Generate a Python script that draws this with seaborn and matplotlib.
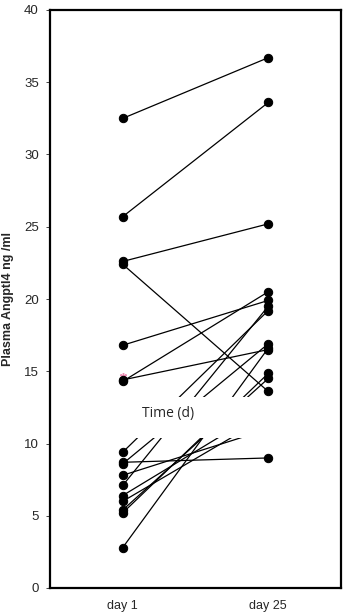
import numpy as np
import pandas as pd
import matplotlib
matplotlib.use("Agg")
import matplotlib.pyplot as plt
import seaborn as sns

# paired plasma Angptl4 values (ng/ml), one entry per subject
day1 = [32.5, 25.7, 22.6, 22.4, 16.8, 14.3, 14.4, 9.4, 8.7, 8.6,
        7.8, 7.1, 6.4, 6.0, 5.4, 5.2, 2.8]
day25 = [36.7, 33.6, 25.2, 13.6, 19.9, 20.5, 16.5, 19.2, 9.0, 16.9,
         11.0, 19.5, 12.5, 11.9, 14.5, 14.85, 16.6]
days = ["day 1", "day 25"]
yticks = [0, 5, 10, 15, 20, 25, 30, 35, 40]
# stray pink symbol near one day-1 point
pink_val = [14.65]

rows = []
for i, (a, b) in enumerate(zip(day1, day25)):
    rows.append({"subject": i, "day": days[0], "value": a})
    rows.append({"subject": i, "day": days[1], "value": b})
df = pd.DataFrame(rows)

sns.set_style("white")
plt.rcParams["font.family"] = ["Liberation Sans", "DejaVu Sans"]

fig = plt.figure(figsize=(3.47, 6.14), dpi=100)
ax = fig.add_axes([50 / 347, 26 / 614, 291 / 347, 578 / 614])

ax.plot([0] * len(pink_val), pink_val, marker=(6, 2, 0), color="#f08cb4",
        markersize=5, linestyle="none", zorder=2)
sns.lineplot(data=df, x="day", y="value", units="subject", estimator=None,
             color="black", linewidth=0.9, marker="o", markersize=6,
             markeredgecolor="black", markerfacecolor="black", ax=ax,
             zorder=3)

# white box that hides part of the plot where the axis title sits
ax.axhspan(10.4, 13.25, color="white", zorder=4, linewidth=0)
ax.text(0.404, 12.1, "Time (d)", transform=ax.get_yaxis_transform(),
        ha="center", va="center", fontsize=10, family=["Open Sans", "DejaVu Sans"],
        zorder=6)

ax.set_xlim(-0.5, 1.5)
ax.set_ylim(0, 40)
ax.set_yticks(yticks)
ax.set_xticks([0, 1])
ax.set_xticklabels(days)
ax.set_xticks([-0.5, 0.5, 1.5], minor=True)
ax.tick_params(axis="x", which="major", length=0, pad=9, labelsize=9)
ax.tick_params(axis="x", which="minor", length=3, width=0.6, direction="out")
ax.tick_params(axis="y", length=3, width=0.6, direction="out", pad=5,
               labelsize=9.5, left=True)
ax.set_xlabel("")
ax.set_ylabel("Plasma Angptl4 ng /ml", fontsize=9, fontweight="bold")
ax.yaxis.set_label_coords(-0.124, 0.5)

for sp in ax.spines.values():
    sp.set_linewidth(1.6)
    sp.set_color("black")
    sp.set_zorder(5)

fig.savefig("out.png", dpi=100)
